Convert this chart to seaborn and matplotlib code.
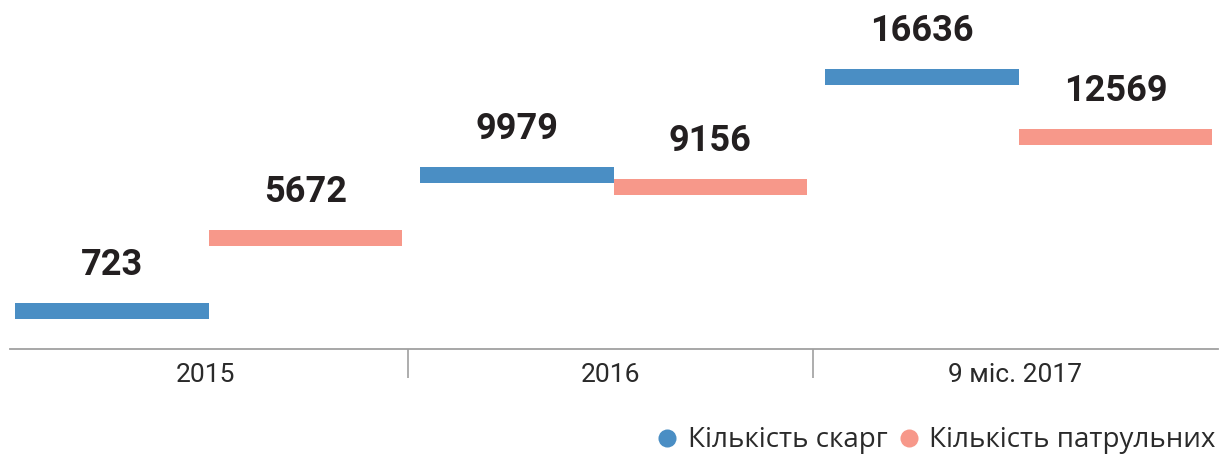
import pandas as pd
import seaborn as sns
import matplotlib.pyplot as plt
from matplotlib.lines import Line2D

# дані
periods = ["2015", "2016", "9 міс. 2017"]
complaints = [723, 9979, 16636]
patrols = [5672, 9156, 12569]
series_names = ["Кількість скарг", "Кількість патрульних"]

colors = ["#4A8EC4", "#F7988A"]

df = pd.DataFrame({
    "period": periods * 2,
    "value": complaints + patrols,
    "series": [series_names[0]] * 3 + [series_names[1]] * 3,
})

sns.set_theme(style="white")
plt.rcParams["font.family"] = ["Roboto", "DejaVu Sans"]

fig = plt.figure(figsize=(12.22, 4.61), dpi=100)
ax = fig.add_axes([3 / 1222, 112 / 461, 1215 / 1222, 349 / 461])

sns.barplot(data=df, x="period", y="value", hue="series", palette=colors,
            width=0.955, gap=0, saturation=1, legend=False, ax=ax)

# стовпчики -> тонкі смуги на рівні значення
band = 1090
for p in ax.patches:
    h = p.get_height()
    if h == 0:
        continue
    p.set_x(p.get_x() + 0.008)
    p.set_y(h - band / 2)
    p.set_height(band)
    p.set_linewidth(0)
    ax.text(p.get_x() + p.get_width() / 2, h + 2450, f"{int(h)}",
            ha="center", va="baseline", fontsize=26, fontweight="bold",
            color="#231f20")

ax.set_ylim(-1850, 21900)
ax.set_xlim(-0.5, 2.5)
ax.set_xlabel("")
ax.set_ylabel("")
ax.set_yticks([])

for s in ["top", "left", "right"]:
    ax.spines[s].set_visible(False)
ax.spines["bottom"].set_color("#a0a0a0")
ax.spines["bottom"].set_linewidth(1.3)
ax.spines["bottom"].set_bounds(-0.483, 2.5)

ax.set_xticks([0.5, 1.5], minor=True)
ax.tick_params(axis="x", which="major", length=0, pad=10, labelsize=19,
               labelcolor="#2a2a2a")
ax.tick_params(axis="x", which="minor", length=21, width=1.2, color="#a0a0a0",
               direction="out", bottom=True)

handles = [Line2D([], [], marker="o", linestyle="", markersize=13,
                  markerfacecolor=c, markeredgewidth=0) for c in colors]
fig.legend(handles, series_names, loc="lower right", bbox_to_anchor=(1.004, -0.01),
           ncol=2, frameon=False, handletextpad=0.45, columnspacing=0.45,
           handlelength=0.6, borderaxespad=0, labelcolor="#2a2a2a",
           prop={"family": ["Open Sans", "DejaVu Sans"], "size": 20})

fig.savefig("out.png", dpi=100)
plt.close(fig)
